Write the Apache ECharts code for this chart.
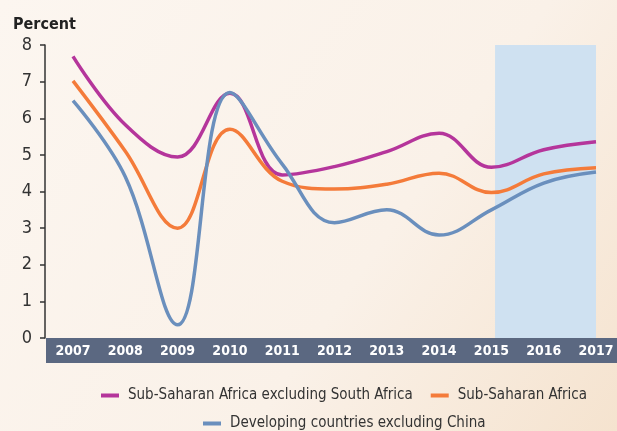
<!DOCTYPE html>
<html>
<head>
<meta charset="utf-8">
<script src="https://cdn.jsdelivr.net/npm/echarts@6/dist/echarts.min.js"></script>
<style>
  html, body { margin: 0; padding: 0; }
  #chart { width: 617px; height: 431px; }
</style>
</head>
<body>
<div id="chart"></div>
<script>
// 数据
const years = [2007, 2008, 2009, 2010, 2011, 2012, 2013, 2014, 2015, 2016, 2017];
const ssaExSA = [7.69, 5.82, 4.94, 6.68, 4.45, 4.68, 5.09, 5.59, 4.66, 5.14, 5.36];
const ssa = [7.02, 5.1, 3.0, 5.7, 4.28, 4.07, 4.2, 4.5, 3.97, 4.48, 4.65];
const devExChina = [6.48, 4.4, 0.36, 6.7, 4.75, 3.15, 3.5, 2.81, 3.5, 4.23, 4.53];
const yTicks = [0, 1, 2, 3, 4, 5, 6, 7, 8];
const projStart = 2015.07;
const projEnd = 2017;

const names = [
  'Sub-Saharan Africa excluding South Africa',
  'Sub-Saharan Africa',
  'Developing countries excluding China'
];
const colors = ['#b5359b', '#f47b3a', '#6a8fbd'];
const font = '"DejaVu Sans Condensed", "Liberation Sans Narrow", sans-serif';

function pairs(vals) {
  return years.map((y, i) => [y, vals[i]]);
}

function lineSeries(name, vals, color) {
  return {
    name: name,
    type: 'line',
    data: pairs(vals),
    smooth: 0.4,
    symbol: 'none',
    lineStyle: { color: color, width: 3.5 },
    itemStyle: { color: color },
    z: 3
  };
}

const series = [
  lineSeries(names[0], ssaExSA, colors[0]),
  lineSeries(names[1], ssa, colors[1]),
  lineSeries(names[2], devExChina, colors[2])
];
// 预测区间阴影
series[0].markArea = {
  silent: true,
  itemStyle: { color: '#cfe1f1' },
  data: [[{ xAxis: projStart }, { xAxis: projEnd }]]
};

const chart = echarts.init(document.getElementById('chart'), null, { renderer: 'canvas' });
chart.setOption({
  animation: false,
  backgroundColor: {
    type: 'linear', x: 0, y: 0, x2: 1, y2: 1,
    colorStops: [
      { offset: 0, color: '#fcf6f0' },
      { offset: 0.6, color: '#faf1e8' },
      { offset: 1, color: '#f5e3cf' }
    ]
  },
  title: {
    text: 'Percent',
    left: 8,
    top: 12,
    textStyle: { fontFamily: font, fontSize: 16, fontWeight: 'bold', color: '#222' }
  },
  graphic: [{
    type: 'rect',
    z: -1,
    shape: { x: 46, y: 338, width: 571, height: 25 },
    style: { fill: '#5b6881' }
  }],
  grid: { left: 73, right: 21, top: 45, bottom: 93 },
  xAxis: {
    type: 'value',
    min: 2007,
    max: 2017,
    interval: 1,
    z: 5,
    axisLine: { show: false },
    axisTick: { show: false },
    splitLine: { show: false },
    axisLabel: {
      color: '#fff',
      fontFamily: font,
      fontWeight: 'bold',
      fontSize: 14,
      margin: 6,
      formatter: v => String(v)
    }
  },
  yAxis: {
    type: 'value',
    min: yTicks[0],
    max: yTicks[yTicks.length - 1],
    interval: 1,
    offset: 28,
    axisLine: { show: true, lineStyle: { color: '#333', width: 1.5 } },
    axisTick: { show: true, length: 5, lineStyle: { color: '#333', width: 1.5 } },
    splitLine: { show: false },
    axisLabel: { color: '#333', fontFamily: font, fontSize: 18, margin: 13 }
  },
  legend: [
    {
      data: [names[0], names[1]],
      left: 96,
      top: 383,
      width: 520,
      icon: 'rect',
      itemWidth: 18,
      itemHeight: 4,
      itemGap: 18,
      textStyle: { fontFamily: font, fontSize: 15, color: '#333', padding: [0, 0, 0, 4] }
    },
    {
      data: [names[2]],
      left: 198,
      top: 411,
      width: 400,
      icon: 'rect',
      itemWidth: 18,
      itemHeight: 4,
      textStyle: { fontFamily: font, fontSize: 15, color: '#333', padding: [0, 0, 0, 4] }
    }
  ],
  series: series
});
</script>
</body>
</html>
